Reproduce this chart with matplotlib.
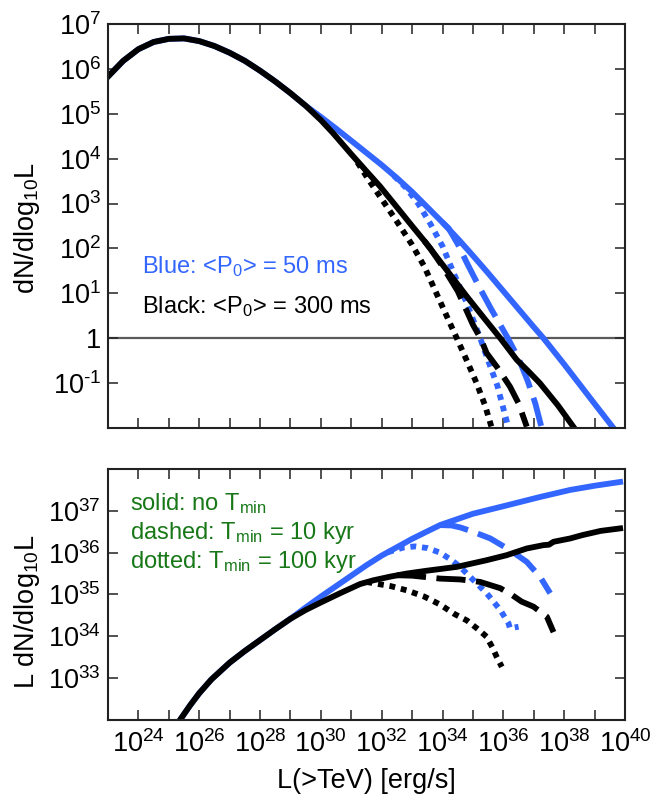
import numpy as np
import matplotlib
matplotlib.use('Agg')
import matplotlib.pyplot as plt
from matplotlib.ticker import NullLocator

plt.rcParams['font.family'] = ['Liberation Sans', 'DejaVu Sans']
plt.rcParams['mathtext.fontset'] = 'custom'
plt.rcParams['mathtext.rm'] = 'Liberation Sans'
plt.rcParams['mathtext.it'] = 'Liberation Sans:italic'
plt.rcParams['mathtext.default'] = 'regular'

BLUE = '#3366ff'
GREEN = '#187818'

# ---- top panel: log10 L and log10 dN/dlog10L ----
# shared part (all curves overlap)
top_common_L = [23.0, 23.5, 24.0, 24.5, 25.0, 25.5, 26.0, 26.5, 27.0, 27.5, 28.0, 28.5, 29.0, 29.5]
top_common_N = [5.83, 6.18, 6.44, 6.60, 6.67, 6.68, 6.62, 6.51, 6.36, 6.18, 5.96, 5.72, 5.46, 5.18]

top_blue_solid_L = [30.0, 30.5, 31.0, 31.5, 32.0, 32.5, 33.0, 33.5, 34.0, 34.5, 35.0, 35.5, 36.0, 36.5, 37.0, 37.32, 38.0, 38.5, 39.0, 39.62]
top_blue_solid_N = [4.93, 4.67, 4.40, 4.13, 3.86, 3.57, 3.26, 2.92, 2.58, 2.22, 1.84, 1.45, 1.05, 0.65, 0.25, 0.0, -0.58, -1.02, -1.46, -2.0]

top_blue_dash_L = [34.0, 34.2, 34.5, 34.8, 35.2, 35.6, 36.15, 36.5, 36.8, 37.05, 37.26]
top_blue_dash_N = [2.58, 2.45, 2.10, 1.68, 1.15, 0.65, 0.0, -0.45, -0.95, -1.45, -2.0]

top_blue_dot_L = [32.4, 32.8, 33.2, 33.6, 34.0, 34.4, 34.8, 35.24, 35.5, 35.8, 36.17]
top_blue_dot_N = [3.62, 3.35, 3.00, 2.55, 2.05, 1.40, 0.78, 0.0, -0.5, -1.05, -2.0]

top_black_solid_L = [30.0, 30.4, 31.0, 31.5, 31.95, 32.5, 33.0, 33.4, 34.0, 34.8, 35.4, 35.9, 36.44, 36.8, 37.2, 37.8, 38.3]
top_black_solid_N = [4.86, 4.57, 4.10, 3.72, 3.38, 2.92, 2.50, 2.17, 1.64, 0.93, 0.42, 0.0, -0.48, -0.72, -1.0, -1.5, -1.97]

top_black_dash_L = [33.4, 33.6, 34.0, 34.5, 35.0, 35.25, 35.45, 35.8, 36.22, 36.5, 36.77]
top_black_dash_N = [2.17, 2.0, 1.60, 1.05, 0.30, 0.0, -0.33, -0.65, -1.08, -1.45, -1.97]

top_black_dot_L = [31.2, 31.6, 32.0, 32.5, 33.0, 33.4, 33.8, 34.1, 34.47, 34.8, 35.12, 35.4, 35.62]
top_black_dot_N = [3.92, 3.50, 3.10, 2.60, 2.08, 1.60, 1.0, 0.55, 0.0, -0.5, -1.0, -1.5, -2.0]

# ---- bottom panel: log10 L and log10 (L dN/dlog10L) ----
bot_common_L = [25.3, 25.7, 26.0, 26.4, 27.0, 27.5, 28.0, 28.5, 29.0]
bot_common_Y = [31.93, 32.35, 32.64, 32.97, 33.37, 33.65, 33.91, 34.17, 34.42]

bot_blue_solid_L = [29.5, 30.0, 30.5, 31.0, 31.5, 32.0, 32.5, 33.0, 33.5, 33.92, 35.0, 36.11, 37.2, 38.2, 39.0, 39.84]
bot_blue_solid_Y = [34.69, 34.95, 35.20, 35.45, 35.70, 35.93, 36.13, 36.33, 36.51, 36.66, 36.93, 37.13, 37.33, 37.50, 37.60, 37.69]

bot_blue_dash_L = [33.9, 34.3, 34.6, 35.0, 35.57, 36.22, 36.77, 37.21, 37.54]
bot_blue_dash_Y = [36.66, 36.65, 36.60, 36.50, 36.34, 36.06, 35.78, 35.42, 35.03]

bot_blue_dot_L = [32.2, 32.7, 33.1, 33.5, 33.92, 34.3, 34.58, 35.02, 35.45, 35.9, 36.17, 36.22, 36.5]
bot_blue_dot_Y = [36.01, 36.12, 36.15, 36.11, 36.0, 35.82, 35.66, 35.34, 35.03, 34.63, 34.31, 34.19, 34.23]

bot_black_solid_L = [29.5, 30.0, 30.63, 31.29, 31.73, 32.3, 32.82, 33.5, 34.47, 35.45, 36.11, 36.77, 37.32, 37.5, 37.65, 38.2, 38.6, 39.2, 39.84]
bot_black_solid_Y = [34.63, 34.81, 35.03, 35.25, 35.34, 35.43, 35.50, 35.57, 35.66, 35.82, 35.94, 36.10, 36.18, 36.19, 36.26, 36.34, 36.42, 36.52, 36.58]

bot_black_dash_L = [32.5, 33.0, 33.92, 34.58, 35.24, 35.9, 36.28, 36.6, 36.99, 37.21, 37.43, 37.65]
bot_black_dash_Y = [35.46, 35.45, 35.38, 35.36, 35.30, 35.15, 34.99, 34.83, 34.71, 34.59, 34.47, 34.10]

bot_black_dot_L = [31.5, 31.73, 32.3, 32.82, 33.4, 33.92, 34.4, 34.8, 35.2, 35.45, 35.65, 35.78, 35.95]
bot_black_dot_Y = [35.30, 35.27, 35.20, 35.10, 34.95, 34.76, 34.53, 34.38, 34.15, 33.99, 33.72, 33.51, 33.27]


def curve(base_x, base_y, x, y):
    xs = np.concatenate([base_x, x])
    ys = np.concatenate([base_y, y])
    return 10.0 ** xs, 10.0 ** ys


def pts(x, y):
    return 10.0 ** np.array(x), 10.0 ** np.array(y)


fig = plt.figure(figsize=(6.53, 7.96), dpi=100)
ax1 = fig.add_axes([0.1654, 0.4623, 0.7917, 0.5075])
ax2 = fig.add_axes([0.1654, 0.0955, 0.7917, 0.3153])

DASH = (0, (5.0, 1.8))
DOT = (0, (1.0, 1.0))
LW = 4.2

# top panel
ax1.axhline(1, color='#5a5a5a', lw=1.6, zorder=1)
tc_x, tc_y = top_common_L, top_common_N
ax1.plot(*curve(tc_x, tc_y, top_blue_solid_L, top_blue_solid_N), color=BLUE, lw=LW)
ax1.plot(*pts(top_blue_dash_L, top_blue_dash_N), color=BLUE, lw=LW, ls=DASH)
ax1.plot(*pts(top_blue_dot_L, top_blue_dot_N), color=BLUE, lw=LW, ls=DOT)
ax1.plot(*pts(top_black_dot_L, top_black_dot_N), color='black', lw=LW, ls=DOT)
ax1.plot(*pts(top_black_dash_L, top_black_dash_N), color='black', lw=LW, ls=DASH)
ax1.plot(*curve(tc_x, tc_y, top_black_solid_L, top_black_solid_N), color='black', lw=LW)

# bottom panel
bc_x, bc_y = bot_common_L, bot_common_Y
ax2.plot(*curve(bc_x, bc_y, bot_blue_solid_L, bot_blue_solid_Y), color=BLUE, lw=LW)
ax2.plot(*pts(bot_blue_dash_L, bot_blue_dash_Y), color=BLUE, lw=LW, ls=DASH)
ax2.plot(*pts(bot_blue_dot_L, bot_blue_dot_Y), color=BLUE, lw=LW, ls=DOT)
ax2.plot(*pts(bot_black_dot_L, bot_black_dot_Y), color='black', lw=LW, ls=DOT)
ax2.plot(*pts(bot_black_dash_L, bot_black_dash_Y), color='black', lw=LW, ls=DASH)
ax2.plot(*curve(bc_x, bc_y, bot_black_solid_L, bot_black_solid_Y), color='black', lw=LW)

x_decades = list(range(23, 41))
for ax in (ax1, ax2):
    ax.set_xscale('log')
    ax.set_yscale('log')
    ax.set_xlim(1e23, 1e40)
    ax.set_xticks([10.0 ** d for d in x_decades])
    ax.xaxis.set_minor_locator(NullLocator())
    ax.tick_params(which='both', direction='in', top=True, right=True,
                   length=7, width=1.1, labelsize=19.5, color='#222222')
    ax.tick_params(axis='x', pad=7)
    ax.tick_params(axis='y', pad=5)
    for s in ax.spines.values():
        s.set_linewidth(1.5)
        s.set_color('#222222')

ax1.set_xticklabels([])
ax2.set_xticklabels([r'$10^{%d}$' % d if d % 2 == 0 else '' for d in x_decades])

top_y_decades = list(range(-1, 8))
ax1.set_ylim(1e-2, 1e7)
ax1.set_yticks([10.0 ** d for d in top_y_decades])
ax1.set_yticklabels(['1' if d == 0 else (r'$10^{\text{-1}}$' if d < 0 else r'$10^{%d}$' % d)
                     for d in top_y_decades])
ax1.yaxis.set_minor_locator(NullLocator())

bot_y_decades = list(range(33, 38))
ax2.set_ylim(1e32, 1e38)
ax2.set_yticks([10.0 ** d for d in bot_y_decades])
ax2.set_yticklabels([r'$10^{%d}$' % d for d in bot_y_decades])
ax2.yaxis.set_minor_locator(NullLocator())

ax1.set_ylabel(r'dN/dlog$_{10}$L', fontsize=19.5)
ax1.yaxis.set_label_coords(-0.128, 0.495)
ax2.set_ylabel(r'L dN/dlog$_{10}$L', fontsize=19.5)
ax2.yaxis.set_label_coords(-0.128, 0.43)
ax2.set_xlabel('L(>TeV) [erg/s]', fontsize=19.5)
ax2.xaxis.set_label_coords(0.5, -0.19)

ax1.text(0.066, 0.384, r'Blue: <P$_0$> = 50 ms', color=BLUE, fontsize=17,
         transform=ax1.transAxes, va='baseline')
ax1.text(0.066, 0.285, r'Black: <P$_0$> = 300 ms', color='black', fontsize=17,
         transform=ax1.transAxes, va='baseline')

ax2.text(0.043, 0.837, r'solid: no T$_{min}$', color=GREEN, fontsize=17,
         transform=ax2.transAxes, va='baseline')
ax2.text(0.043, 0.721, r'dashed: T$_{min}$ = 10 kyr', color=GREEN, fontsize=17,
         transform=ax2.transAxes, va='baseline')
ax2.text(0.043, 0.607, r'dotted: T$_{min}$ = 100 kyr', color=GREEN, fontsize=17,
         transform=ax2.transAxes, va='baseline')

fig.savefig('out.png', dpi=100)
